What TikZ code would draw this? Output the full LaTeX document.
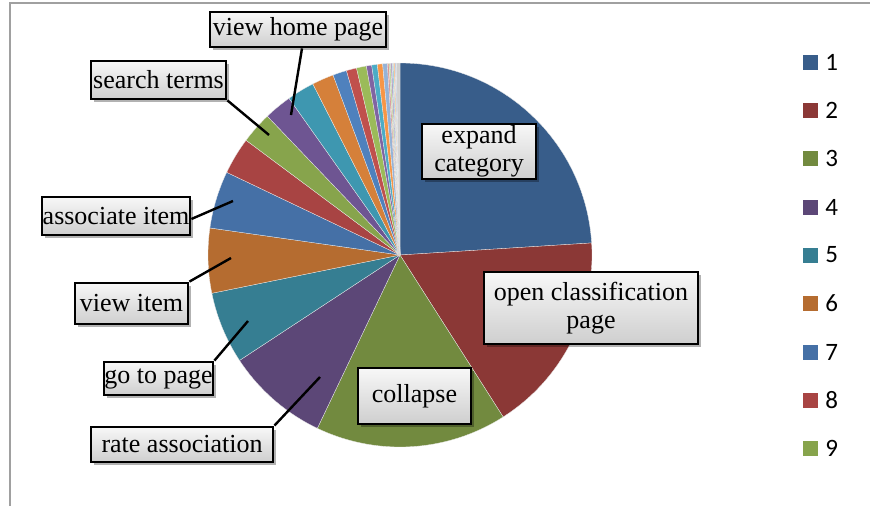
\documentclass[tikz,border=0pt]{standalone}
\usepackage{fontspec}
\setmainfont{Liberation Serif}
\newfontfamily\legendfont{Carlito}
\usetikzlibrary{shadows}
\definecolor{c1}{HTML}{385D8A}
\definecolor{c2}{HTML}{8B3836}
\definecolor{c3}{HTML}{728A3F}
\definecolor{c4}{HTML}{5C4777}
\definecolor{c5}{HTML}{367E92}
\definecolor{c6}{HTML}{B56C30}
\definecolor{c7}{HTML}{4570A6}
\definecolor{c8}{HTML}{A84443}
\definecolor{c9}{HTML}{87A44C}
\definecolor{c10}{HTML}{6E5592}
\definecolor{c11}{HTML}{3E97B0}
\definecolor{c12}{HTML}{D5803A}
\definecolor{c13}{HTML}{4F81BD}
\definecolor{c14}{HTML}{C0504D}
\definecolor{c15}{HTML}{9BBB59}
\definecolor{c16}{HTML}{8064A2}
\definecolor{c17}{HTML}{4BACC6}
\definecolor{c18}{HTML}{F79646}
\definecolor{c19}{HTML}{95B3D7}
\definecolor{c20}{HTML}{D99694}
\definecolor{c21}{HTML}{C3D69B}
\definecolor{c22}{HTML}{B3A2C7}
\definecolor{c23}{HTML}{93CDDD}
\definecolor{c24}{HTML}{FAC090}
\definecolor{c25}{HTML}{B9CDE5}
\definecolor{c26}{HTML}{CFCFCF}
\definecolor{framegray}{HTML}{A0A0A0}
\tikzset{
  lbl/.style={draw=black, line width=2.8pt, top color=gray!6, bottom color=gray!38,
    inner sep=0pt, align=center, font=\fontsize{26}{28}\selectfont,
    drop shadow={shadow xshift=2.5pt, shadow yshift=-2.5pt, fill=black, opacity=0.3}},
  conn/.style={draw=black, line width=2.4pt},
  legsq/.style={minimum width=15pt, minimum height=15pt, inner sep=0pt},
  legtxt/.style={anchor=west, inner sep=0pt, xshift=7pt, font=\legendfont\fontsize{25}{27}\selectfont},
  frameline/.style={draw=framegray, line width=2.2pt}
}
\begin{document}
\begin{tikzpicture}[x=1pt, y=-1pt]
\useasboundingbox (0,0) rectangle (870,506);
% frame
\draw[frameline] (10,506) -- (10,3) -- (870,3);
% pie slices (screen angles, clockwise from top)
\foreach \a/\b/\c in {-90/-3.6/c1, -3.6/57.5/c2, 57.5/115.5/c3, 115.5/146.7/c4,
  146.7/168.5/c5, 168.5/188.1/c6, 188.1/205.5/c7, 205.5/216.7/c8, 216.7/226.3/c9,
  226.3/234.7/c10, 234.7/243/c11, 243/249.6/c12, 249.6/253.8/c13, 253.8/256.9/c14,
  256.9/259.9/c15, 259.9/261.5/c16, 261.5/263.2/c17, 263.2/264.8/c18, 264.8/266.2/c19,
  266.2/266.7/c20, 266.7/267.2/c21, 267.2/267.7/c22, 267.7/268.1/c23, 268.1/268.5/c24,
  268.5/268.9/c25, 268.9/270/c26}
{
  \fill[fill=\c, draw=white!85!gray, line width=0.3pt] (400,255) -- ++(\a:192) arc[start angle=\a, end angle=\b, radius=192] -- cycle;
}
% connector targets
\coordinate (p10) at (291,115);
\coordinate (p9) at (269,135);
\coordinate (p7) at (233,201);
\coordinate (p6) at (231,258);
\coordinate (p5) at (248,321);
\coordinate (p4) at (320,377);
% labels
\node[lbl, minimum width=176pt, minimum height=35pt] (vhp) at (298,29.5) {view home page};
\node[lbl, minimum width=135pt, minimum height=38pt] (st) at (158.5,80) {search terms};
\node[lbl, minimum width=148pt, minimum height=38pt] (ai) at (116,216) {associate item};
\node[lbl, minimum width=113pt, minimum height=41pt] (vi) at (131.5,303.5) {view item};
\node[lbl, minimum width=109pt, minimum height=33pt] (gp) at (158.5,378.5) {go to page};
\node[lbl, minimum width=182pt, minimum height=35pt] (ra) at (182,444.5) {rate association};
\node[lbl, minimum width=113pt, minimum height=56pt] (co) at (414.5,396) {collapse};
\node[lbl, minimum width=214pt, minimum height=72pt] (oc) at (591,308) {open classification\\page};
\node[lbl, minimum width=114pt, minimum height=55pt] (ec) at (479,151.5) {expand\\category};
% connectors
\draw[conn] ([xshift=4pt]vhp.south) -- (p10);
\draw[conn] (st.south east) -- (p9);
\draw[conn] ([yshift=-3pt]ai.east) -- (p7);
\draw[conn] (vi.north east) -- (p6);
\draw[conn] (gp.north east) -- (p5);
\draw[conn] (ra.north east) -- (p4);
% legend
\foreach \i/\y/\c in {1/62/c1, 2/110/c2, 3/158/c3, 4/207/c4, 5/255/c5, 6/303/c6, 7/352/c7, 8/400/c8, 9/448/c9}
{
  \node[legsq, fill=\c] (sq\i) at (810.5,\y) {};
  \node[legtxt] (lt\i) at (sq\i.east) {\i};
}
\end{tikzpicture}
\end{document}
